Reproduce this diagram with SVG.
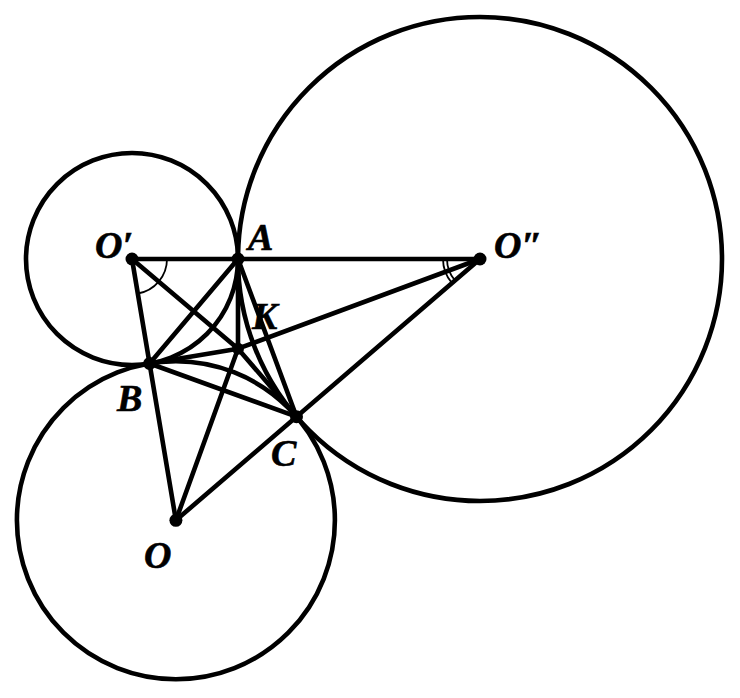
<svg xmlns="http://www.w3.org/2000/svg" width="740" height="698" viewBox="0 0 740 698">
<style>
.c{fill:none;stroke:#000;stroke-width:4.6}
.l{stroke:#000;stroke-width:4.6;stroke-linecap:round;fill:none}
.m{fill:none;stroke:#000;stroke-width:1.8}
.d{fill:#000}
.t{font-family:"Liberation Serif","Times New Roman",serif;font-weight:bold;font-style:italic;font-size:38px;fill:#000;stroke:#000;stroke-width:0.6}
</style>
<rect width="740" height="698" fill="#fff"/>
<g id="circles">
<circle id="circle-Op" class="c" cx="132" cy="259" r="106"/>
<circle id="circle-Opp" class="c" cx="480" cy="259" r="242"/>
<circle id="circle-O" class="c" cx="175.9" cy="520.3" r="159"/>
</g>
<g id="connectors">
<line class="l" x1="132" y1="259" x2="480" y2="259"/>
<line class="l" x1="132" y1="259" x2="175.9" y2="520.3"/>
<line class="l" x1="175.9" y1="520.3" x2="480" y2="259"/>
<line class="l" x1="238" y1="348.7" x2="132" y2="259"/>
<line class="l" x1="238" y1="348.7" x2="480" y2="259"/>
<line class="l" x1="238" y1="348.7" x2="175.9" y2="520.3"/>
<line class="l" x1="238" y1="348.7" x2="238" y2="259"/>
<line class="l" x1="238" y1="348.7" x2="149.6" y2="363.5"/>
<line class="l" x1="238" y1="348.7" x2="296.5" y2="416.7"/>
<line class="l" x1="238" y1="259" x2="149.6" y2="363.5"/>
<line class="l" x1="149.6" y1="363.5" x2="296.5" y2="416.7"/>
<line class="l" x1="238" y1="259" x2="296.5" y2="416.7"/>
</g>
<g id="angle-marks">
<path class="m" d="M167 259 A35 35 0 0 1 137.8 293.5"/>
<path class="m" d="M447 259 A33 33 0 0 0 455 280.5"/>
<path class="m" d="M443 259 A37 37 0 0 0 452 283.1"/>
</g>
<g id="node-Op"><circle class="d" cx="132" cy="259" r="6.5"/><text class="t" x="95" y="258">O′</text></g>
<g id="node-A"><circle class="d" cx="238" cy="259" r="6.5"/><text class="t" x="248" y="250">A</text></g>
<g id="node-Opp"><circle class="d" cx="480" cy="259" r="6.5"/><text class="t" x="494" y="258">O″</text></g>
<g id="node-K"><circle class="d" cx="238" cy="348.7" r="6"/><text class="t" x="252" y="329">K</text></g>
<g id="node-B"><circle class="d" cx="149.6" cy="363.5" r="6.5"/><text class="t" x="117" y="411">B</text></g>
<g id="node-C"><circle class="d" cx="296.5" cy="416.7" r="6.5"/><text class="t" x="271" y="466">C</text></g>
<g id="node-O"><circle class="d" cx="175.9" cy="520.3" r="6.5"/><text class="t" x="144" y="568">O</text></g>
</svg>
